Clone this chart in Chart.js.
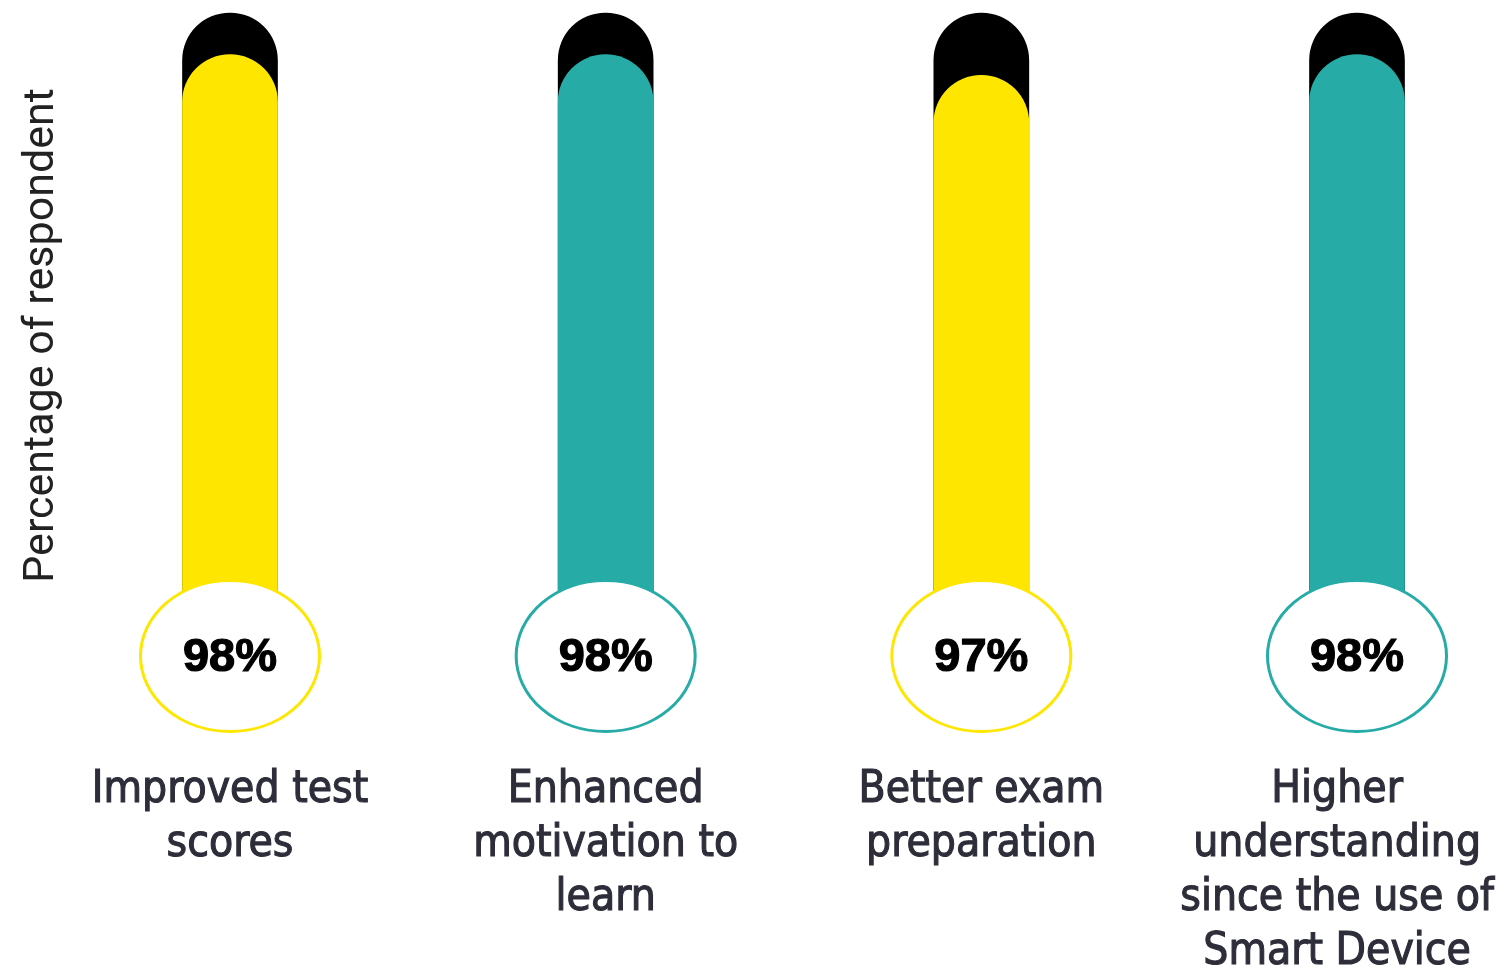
<!DOCTYPE html>
<html>
<head>
<meta charset="utf-8">
<script src="https://cdn.jsdelivr.net/npm/chart.js@4.4.1/dist/chart.umd.min.js"></script>
<style>
  html, body { margin: 0; padding: 0; background: #ffffff; }
  #wrap { width: 1502px; height: 973px; }
</style>
</head>
<body>
<div id="wrap"><canvas id="c" width="1502" height="973"></canvas></div>
<script>
// ---- data ----
const categories = [
  ["Improved test", "scores"],
  ["Enhanced", "motivation to", "learn"],
  ["Better exam", "preparation"],
  ["Higher", "understanding", "since the use of", "Smart Device"]
];
const percentValues = [98, 98, 97, 98];
const fullValues = [100, 100, 100, 100];
const valueLabels = ["98%", "98%", "97%", "98%"];
const yAxisTitle = "Percentage of respondent";
const yMin = 69;
const yMax = 100;

const YELLOW = "#FFE600";
const TEAL = "#26ABA7";
const barColors = [YELLOW, TEAL, YELLOW, TEAL];

const LABEL_FONT = "44px 'DejaVu Sans Condensed', 'Liberation Sans Narrow', 'Roboto Condensed', sans-serif";

const decorPlugin = {
  id: "decor",
  afterDatasetsDraw(chart) {
    const ctx = chart.ctx;
    const xs = chart.scales.x;
    const ys = chart.scales.y;
    const cy = ys.getPixelForValue(yMin) - 2;
    ctx.save();
    // value ellipses
    percentValues.forEach((v, i) => {
      const cx = xs.getPixelForValue(i);
      ctx.beginPath();
      ctx.ellipse(cx, cy, 89.5, 75.5, 0, 0, Math.PI * 2);
      ctx.fillStyle = "#ffffff";
      ctx.fill();
      ctx.lineWidth = 3;
      ctx.strokeStyle = barColors[i];
      ctx.stroke();
      ctx.fillStyle = "#000000";
      ctx.strokeStyle = "#000000";
      ctx.lineWidth = 1.2;
      ctx.font = "bold 47px 'Liberation Sans', Arial, sans-serif";
      ctx.textAlign = "center";
      ctx.textBaseline = "middle";
      ctx.fillText(valueLabels[i], cx, cy + 2);
      ctx.strokeText(valueLabels[i], cx, cy + 2);
    });
    // category labels under each bar
    ctx.font = LABEL_FONT;
    ctx.fillStyle = "#2d2e3a";
    ctx.strokeStyle = "#2d2e3a";
    ctx.lineWidth = 1.1;
    ctx.textAlign = "center";
    ctx.textBaseline = "middle";
    const W = chart.width;
    categories.forEach((lines, i) => {
      let cx = xs.getPixelForValue(i);
      const maxW = Math.max(...lines.map(l => ctx.measureText(l).width));
      if (cx + maxW / 2 > W - 8) cx = W - 8 - maxW / 2;
      lines.forEach((line, j) => {
        ctx.fillText(line, cx, 791 + j * 54);
        ctx.strokeText(line, cx, 791 + j * 54);
      });
    });
    ctx.restore();
  }
};

new Chart(document.getElementById("c"), {
  type: "bar",
  data: {
    labels: categories,
    datasets: [
      {
        label: "Value",
        data: percentValues,
        base: yMin,
        backgroundColor: barColors,
        borderWidth: 0,
        borderRadius: { topLeft: 48, topRight: 48, bottomLeft: 0, bottomRight: 0 },
        borderSkipped: false,
        barThickness: 95,
        grouped: false,
        clip: false,
        order: 1
      },
      {
        label: "Full",
        data: fullValues,
        base: yMin,
        backgroundColor: "#000000",
        borderWidth: 0,
        borderRadius: { topLeft: 48, topRight: 48, bottomLeft: 0, bottomRight: 0 },
        borderSkipped: false,
        barThickness: 95,
        grouped: false,
        clip: false,
        order: 2
      }
    ]
  },
  options: {
    responsive: false,
    animation: false,
    devicePixelRatio: 1,
    layout: { padding: { top: 13, left: 12, right: 145, bottom: 0 } },
    plugins: {
      legend: { display: false },
      tooltip: { enabled: false },
      title: { display: false }
    },
    scales: {
      x: {
        offset: false,
        border: { display: false },
        grid: { display: false, drawTicks: false },
        ticks: { display: false },
        afterFit(s) { s.height = 315; s.paddingLeft = 0; s.paddingRight = 0; }
      },
      y: {
        min: yMin,
        max: yMax,
        border: { display: false },
        grid: { display: false, drawTicks: false },
        ticks: { display: false },
        title: {
          display: true,
          text: yAxisTitle,
          color: "#222222",
          padding: { top: 4, bottom: 4 },
          font: { family: "Roboto, 'Liberation Sans', sans-serif", size: 43, lineHeight: 1.2 }
        },
        afterFit(s) { s.width = 218; }
      }
    }
  },
  plugins: [decorPlugin]
});
</script>
</body>
</html>
